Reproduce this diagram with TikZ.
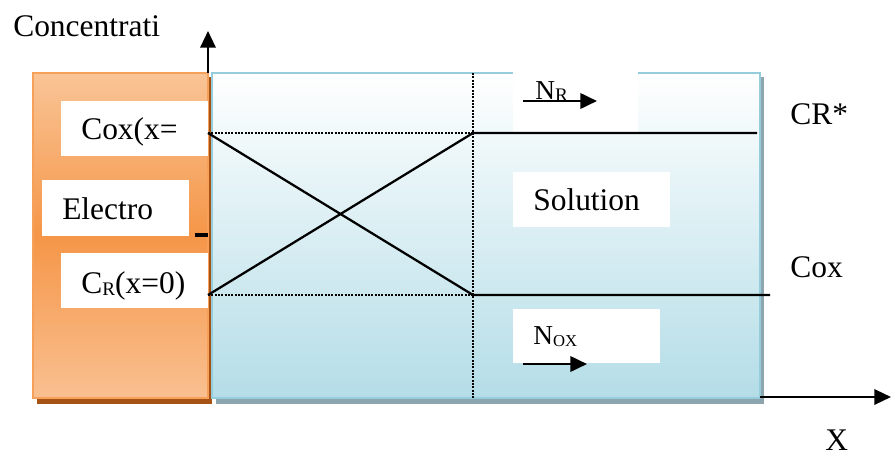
\documentclass[tikz,border=0pt]{standalone}
\usepackage{fontspec}
\setmainfont{Liberation Serif}
\usetikzlibrary{arrows.meta}
\definecolor{orTop}{RGB}{249,196,150}
\definecolor{orMid}{RGB}{245,150,72}
\definecolor{orBot}{RGB}{249,192,145}
\definecolor{orEdge}{RGB}{246,160,90}
\definecolor{orShadow}{RGB}{165,82,20}
\definecolor{blTop}{RGB}{255,255,255}
\definecolor{blBot}{RGB}{180,221,231}
\definecolor{blEdge}{RGB}{150,205,220}
\definecolor{blShadow}{RGB}{140,165,175}
\newcommand\bigtxt{\fontsize{23.6}{28}\selectfont}
\newcommand\ntxt{\fontsize{20.5}{24}\selectfont}
\newcommand\subR[1]{\raisebox{-2.2pt}{\fontsize{14.4}{16}\selectfont #1}}
\newcommand\subOX[1]{\raisebox{-2.2pt}{\fontsize{12.5}{14}\selectfont #1}}
\begin{document}
\begin{tikzpicture}[x=0.75pt,y=-0.75pt,
  lbl/.style={inner sep=0pt,anchor=base west,font=\bigtxt},
  whitebox/.style={fill=white,draw=none},
  prof/.style={line width=1.7pt,black},
  dots/.style={line width=1.5pt,black,densely dotted},
  axisarrow/.style={line width=1.7pt,-{Triangle[length=12.5pt,width=11.5pt]}},
  fluxarrow/.style={line width=2pt,-{Triangle[length=12.5pt,width=11.5pt]}}]
\useasboundingbox (0,0) rectangle (891,457);
% shadows
\fill[orShadow] (37,77) rectangle (212,404);
\fill[blShadow] (216,77) rectangle (764,404);
% electrode
\shade[top color=orTop,bottom color=orBot,middle color=orMid,draw=orEdge,line width=1.5pt] (33,73) rectangle (208,398);
% solution
\shade[top color=blTop,bottom color=blBot,draw=blEdge,line width=1.5pt] (212,73) rectangle (760,398);
% white boxes
\fill[whitebox] (61,101) rectangle (208,156);
\fill[whitebox] (42,180) rectangle (189,236);
\fill[whitebox] (61,253) rectangle (208,308);
\fill[whitebox] (513,70) rectangle (638,133);
\fill[whitebox] (513,172) rectangle (670,227);
\fill[whitebox] (513,309) rectangle (660,363);
% coordinates
\coordinate (ybot) at (208,73);
\coordinate (ytop) at (208,31);
\coordinate (xs) at (760,397);
\coordinate (xe) at (891,397);
\coordinate (A) at (208,133);
\coordinate (B) at (208,295);
\coordinate (C) at (473,133);
\coordinate (D) at (473,295);
\coordinate (Ct) at (473,73);
\coordinate (Db) at (473,398);
\coordinate (CRe) at (757,133);
\coordinate (Coxe) at (770,295);
\coordinate (t1) at (195,235);
\coordinate (t2) at (208,235);
% axes
\draw[axisarrow] (ybot) -- (ytop);
\draw[axisarrow] (xs) -- (xe);
% dotted guides
\draw[dots] (A) -- (C);
\draw[dots] (B) -- (D);
\draw[dots] (Ct) -- (Db);
% profiles
\draw[prof] (A) -- (D) -- (Coxe);
\draw[prof] (B) -- (C) -- (CRe);
\draw[line width=2.5pt] (t1) -- (t2);
% texts
\node[lbl] (conc) at (13,36) {Concentrati};
\node[lbl] (coxx) at (81,139) {Cox(x=};
\node[lbl] (elec) at (62,219) {Electro};
\node[lbl] (crx) at (81,293) {C\subR{R}(x=0)};
\node[lbl] (sol) at (533,210) {Solution};
\node[lbl] (crs) at (790,124) {CR*};
\node[lbl] (coxr) at (790,277) {Cox};
\node[lbl] (xl) at (825,450) {X};
\node[lbl,font=\ntxt] (nr) at (535,99) {N\subR{R}};
\node[lbl,font=\ntxt] (nox) at (533,344) {N\subOX{OX}};
% flux arrows
\coordinate (nr1) at (523,101);
\coordinate (nr2) at (597,101);
\coordinate (no1) at (523,364);
\coordinate (no2) at (587,364);
\draw[fluxarrow] (nr1) -- (nr2);
\draw[fluxarrow] (no1) -- (no2);
\end{tikzpicture}
\end{document}
